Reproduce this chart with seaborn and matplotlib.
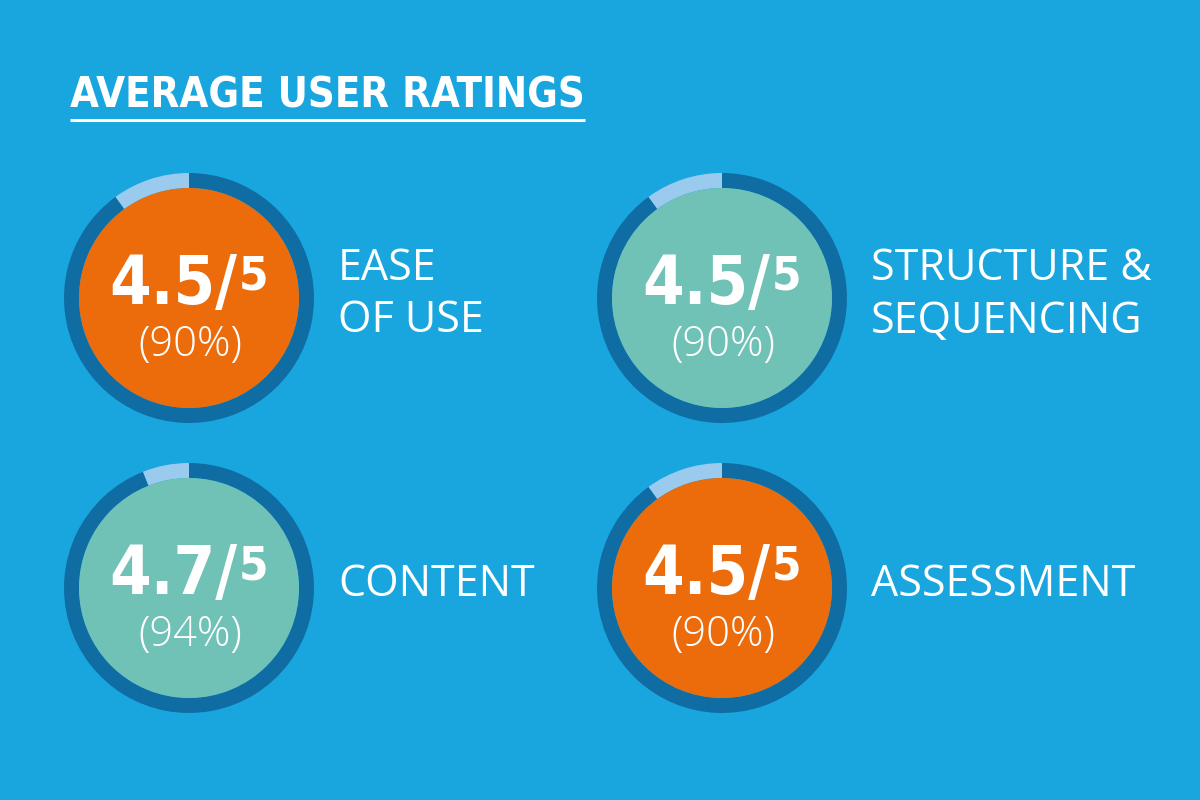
import matplotlib
matplotlib.use("Agg")
import matplotlib.pyplot as plt
import seaborn as sns
from matplotlib.patches import Wedge, Circle

# ---------------- data ----------------
categories = [["EASE", "OF USE"], ["STRUCTURE &", "SEQUENCING"], ["CONTENT"], ["ASSESSMENT"]]
ratings = [4.5, 4.5, 4.7, 4.5]
max_rating = 5
percents = [90, 90, 94, 90]
fill_colors = ["#EC6C0C", "#70C2B6", "#70C2B6", "#EC6C0C"]
title = "AVERAGE USER RATINGS"

# ---------------- layout ----------------
W, H = 1200, 800
centers_x = [189, 722, 189, 722]
centers_y = [298, 298, 588, 588]   # image coords (from top)
outer_r, ring_w = 125, 15

bg = "#19A6DF"
ring_dark = "#0F6DA3"
ring_light = "#9ACBEE"

sns.set_theme(style="white")
plt.rcParams["font.family"] = ["Open Sans", "DejaVu Sans"]
narrow = dict(family="DejaVu Sans", fontstretch="condensed", fontweight="bold", color="white")

fig = plt.figure(figsize=(12, 8), dpi=100, facecolor=bg)
ax = fig.add_axes([0, 0, 1, 1])
ax.set_xlim(0, W)
ax.set_ylim(0, H)
ax.set_aspect("equal")
ax.axis("off")
ax.set_facecolor(bg)
renderer = fig.canvas.get_renderer()


def Y(y):
    return H - y


def width_px(t):
    return t.get_window_extent(renderer=renderer).width


# title with underline as wide as the text
t = ax.text(70, Y(108), title, fontsize=30, ha="left", va="baseline", **narrow)
tw = width_px(t)
ax.plot([70, 70 + tw], [Y(120), Y(120)], color="white", lw=2.2, solid_capstyle="butt")

for lines, rating, pct, col, cx, cy in zip(categories, ratings, percents,
                                            fill_colors, centers_x, centers_y):
    span = 360 * pct / 100
    # dark arc clockwise from 12 o'clock, light arc for the rest
    ax.add_patch(Wedge((cx, Y(cy)), outer_r, 90 - span, 90, width=ring_w,
                       facecolor=ring_dark, edgecolor="none"))
    ax.add_patch(Wedge((cx, Y(cy)), outer_r, 90, 90 + (360 - span), width=ring_w,
                       facecolor=ring_light, edgecolor="none"))
    ax.add_patch(Circle((cx, Y(cy)), outer_r - ring_w, facecolor=col, edgecolor="none"))

    base = cy + 6
    big = ax.text(0, Y(base), f"{rating}/", fontsize=48, ha="left", va="baseline", **narrow)
    sup = ax.text(0, Y(base - 14), f"{max_rating}", fontsize=34, ha="left",
                  va="baseline", **narrow)
    w1, w2, gap = width_px(big), width_px(sup), 1
    x0 = cx - (w1 + gap + w2) / 2
    big.set_x(x0)
    sup.set_x(x0 + w1 + gap)

    ax.text(cx + 1, Y(cy + 58), f"({pct}%)", color="white", fontsize=30,
            fontweight="light", ha="center", va="baseline")

    n = len(lines)
    for i, line in enumerate(lines):
        b = cy + 8 + (i - (n - 1) / 2) * 53
        ax.text(cx + 149, Y(b), line, color="white", fontsize=31,
                ha="left", va="baseline")

fig.savefig("out.png", dpi=100, facecolor=bg)
